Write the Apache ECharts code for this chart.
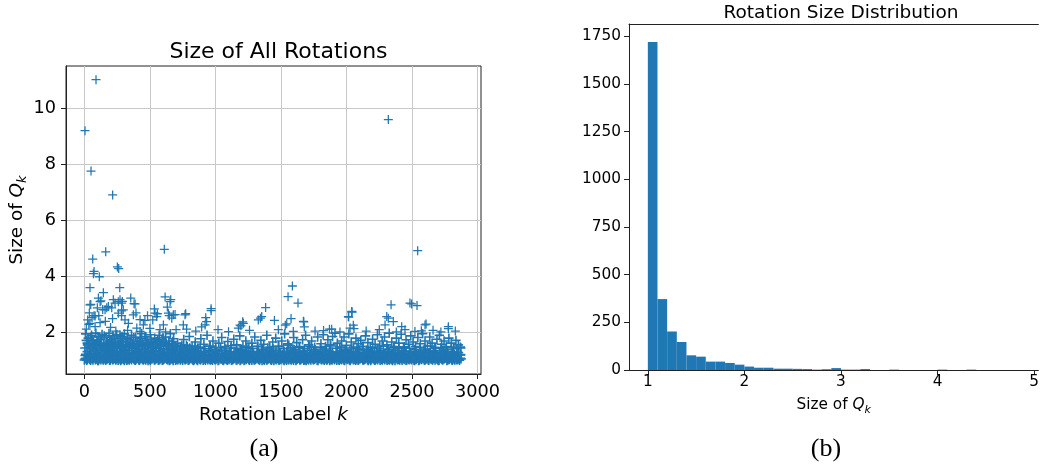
<!DOCTYPE html>
<html><head><meta charset="utf-8">
<script src="https://cdn.jsdelivr.net/npm/echarts@6/dist/echarts.min.js"></script>
<style>html,body{margin:0;padding:0;background:#fff}#c{width:1042px;height:468px}</style>
</head><body><div id="c"></div>
<script>
// ---------- text ----------
const scatterTitle = 'Size of All Rotations';
const histTitle = 'Rotation Size Distribution';
const captionA = '(a)';
const captionB = '(b)';

// ---------- tick labels ----------
const xTicksA = [0, 500, 1000, 1500, 2000, 2500, 3000];
const yTicksA = [2, 4, 6, 8, 10];
const xTicksB = [1, 2, 3, 4, 5];
const yTicksB = [0, 250, 500, 750, 1000, 1250, 1500, 1750];

// ---------- scatter: [rotation label k, size of Q_k] ----------
const outlierPts = [[5,9.2],[89,11.02],[51,7.76],[216,6.91],[2319,9.6],[610,4.97],[163,4.88],[2543,4.92],[64,4.62],[74,4.18],[69,4.1],[114,3.99],[252,4.34],[262,4.28],[43,3.6],[270,3.6],[145,3.42],[1587,3.66],[1554,3.28],[1630,3.05],[2484,3.05],[2497,3.02],[616,3.27],[659,3.17],[654,3.1],[354,3.23],[379,3.03],[387,3.02],[290,3.11],[272,3.17],[285,3.05],[259,3.1],[221,3.17],[234,3.05],[107,3.23],[127,3.13],[120,3.1],[49,3.0]];
const midPts = [[43,2.99],[183,2.93],[297,2.81],[259,2.69],[158,2.81],[99,2.88],[140,2.82],[171,2.88],[209,2.88],[38,2.7],[59,2.53],[34,2.29],[74,2.6],[82,2.59],[43,2.33],[82,2.21],[284,2.77],[284,2.6],[310,2.45],[336,2.33],[374,2.63],[394,2.7],[400,2.16],[425,2.04],[425,2.46],[450,2.27],[462,2.43],[482,2.6],[522,2.45],[534,2.84],[539,2.69],[552,2.57],[557,2.67],[577,2.1],[603,2.27],[633,2.91],[641,2.69],[648,2.6],[667,2.51],[679,2.63],[692,2.64],[755,2.27],[768,2.63],[773,2.67],[895,2.2],[921,2.27],[926,2.53],[933,2.39],[967,2.85],[967,2.78],[1175,2.16],[1188,2.26],[1195,2.24],[1208,2.38],[1213,2.33],[1327,2.45],[1343,2.51],[1353,2.57],[1383,2.89],[1450,2.43],[1533,2.26],[1544,2.31],[1577,2.5],[1594,2.04],[1671,2.4],[1674,2.38],[1678,2.2],[1825,2.07],[1870,2.12],[1887,2.12],[2014,2.57],[2017,2.55],[2027,2.16],[2040,2.75],[2042,2.73],[2052,2.26],[2057,2.14],[2294,2.27],[2307,2.57],[2319,2.51],[2340,2.99],[2357,2.39],[2421,2.21],[2446,2.1],[2522,2.04],[2538,2.96],[2571,2.06],[2599,2.27],[2607,2.3],[2777,2.21],[2777,2.14],[15,2.12],[120,2.35],[200,2.18],[240,2.05],[330,2.08],[500,2.15],[620,2.02],[700,2.1],[160,2.4],[215,2.5],[25,2.45],[110,2.6],[2150,2.05],[2250,2.1],[2380,2.02],[2660,2.08],[2720,2.02],[2830,2.05],[1950,2.02],[1760,2.05],[1100,2.03],[1260,2.08],[1480,2.1],[850,2.05],[1020,2.1],[780,2.12]];
const lowPts = [[10,1.95],[22,1.62],[30,1.8],[41,1.48],[55,1.9],[62,1.72],[78,1.55],[88,1.98],[96,1.68],[105,1.85],[118,1.52],[126,1.76],[135,1.93],[148,1.6],[156,1.45],[168,1.82],[176,1.66],[188,1.97],[197,1.54],[205,1.74],[218,1.88],[226,1.5],[238,1.64],[247,1.92],[256,1.78],[268,1.46],[277,1.7],[288,1.86],[296,1.58],[305,1.95],[318,1.66],[327,1.8],[339,1.52],[348,1.74],[360,1.9],[371,1.6],[383,1.47],[392,1.83],[405,1.68],[414,1.56],[428,1.78],[437,1.96],[446,1.62],[458,1.5],[469,1.84],[478,1.7],[491,1.58],[503,1.92],[512,1.65],[526,1.48],[537,1.8],[548,1.58],[560,1.72],[571,1.9],[584,1.55],[595,1.76],[608,1.64],[619,1.84],[631,1.5],[644,1.7],[656,1.96],[668,1.6],[681,1.78],[694,1.52],
[15,1.72],[35,1.58],[50,1.84],[70,1.66],[93,1.5],[112,1.74],[130,1.62],[152,1.88],[172,1.56],[193,1.7],[212,1.6],[232,1.8],[252,1.55],[272,1.9],[292,1.68],[312,1.52],[333,1.76],[355,1.64],[377,1.82],[398,1.54],[420,1.7],[440,1.6],[462,1.86],[485,1.63],[508,1.76],[530,1.56],[553,1.68],[578,1.62],[600,1.82],[625,1.6],[650,1.55],[675,1.68],
[712,1.62],[735,1.48],[758,1.75],[779,1.55],[801,1.86],[822,1.5],[846,1.66],[868,1.44],[889,1.78],[912,1.58],[936,1.9],[958,1.52],[981,1.7],[1003,1.46],[1026,1.62],[1048,1.82],[1071,1.5],[1095,1.68],[1118,1.45],[1140,1.76],[1163,1.56],[1186,1.88],[1210,1.52],[1232,1.7],[1255,1.46],[1278,1.62],[1300,1.84],[1324,1.5],[1347,1.72],[1369,1.58],[1392,1.9],[1415,1.48],[1437,1.66],[1460,1.8],[1483,1.52],[1506,1.7],[1528,1.95],[1551,1.6],[1574,1.46],[1597,1.82],[1620,1.64],[1642,1.5],[1665,1.74],[1688,1.9],[1711,1.56],[1734,1.7],[1757,1.48],[1780,1.84],
[1805,1.6],[1822,1.92],[1840,1.5],[1858,1.74],[1876,1.56],[1894,1.86],[1912,1.98],[1930,1.62],[1948,1.46],[1963,1.7],[1981,1.84],[1999,1.54],[2018,1.95],[2036,1.66],[2054,1.48],[2072,1.8],[2090,1.6],[2109,1.72],[2127,1.5],[2145,1.88],[2163,1.64],[2181,1.46],[2199,1.76],[2218,1.58],[2236,1.92],[2254,1.52],[2272,1.7],[2290,1.84],[2308,1.56],[2326,1.98],[2345,1.66],[2363,1.5],[2381,1.8],[2399,1.62],[2417,1.94],[2435,1.48],[2454,1.74],[2472,1.58],[2490,1.88],[2508,1.66],[2526,1.5],[2544,1.82],[2563,1.6],[2581,1.96],[2599,1.7],[2617,1.52],[2635,1.84],[2653,1.62],[2672,1.46],[2690,1.76],[2708,1.9],[2726,1.58],[2744,1.7],[2762,1.5],[2781,1.8],[2799,1.62],[2817,1.46],[2835,1.72],[2853,1.56],[2868,1.48]];
const bandRowA = [[0,1.02],[12,1.08],[24,1.04],[36,1.10],[48,1.01],[60,1.06],[72,1.09],[84,1.03],[96,1.07],[108,1.00],
[120,1.05],[132,1.09],[144,1.02],[156,1.06],[168,1.04],[180,1.08],[192,1.01],[204,1.10],[216,1.03],[228,1.07],
[240,1.02],[252,1.08],[264,1.05],[276,1.00],[288,1.09],[300,1.04],[312,1.07],[324,1.01],[336,1.06],[348,1.10],
[360,1.03],[372,1.08],[384,1.02],[396,1.05],[408,1.09],[420,1.01],[432,1.07],[444,1.04],[456,1.10],[468,1.02],
[480,1.06],[492,1.08],[504,1.00],[516,1.05],[528,1.09],[540,1.03],[552,1.07],[564,1.01],[576,1.04],[588,1.10],
[600,1.02],[612,1.06],[624,1.08],[636,1.03],[648,1.00],[660,1.07],[672,1.05],[684,1.09],[696,1.01],[708,1.04],
[720,1.08],[732,1.02],[744,1.06],[756,1.10],[768,1.03],[780,1.07],[792,1.01],[804,1.05],[816,1.09],[828,1.02],
[840,1.04],[852,1.08],[864,1.00],[876,1.06],[888,1.03],[900,1.10],[912,1.05],[924,1.01],[936,1.07],[948,1.09],
[960,1.02],[972,1.04],[984,1.08],[996,1.03],[1008,1.06],[1020,1.00],[1032,1.10],[1044,1.05],[1056,1.02],[1068,1.07],
[1080,1.09],[1092,1.01],[1104,1.04],[1116,1.08],[1128,1.03],[1140,1.06],[1152,1.10],[1164,1.02],[1176,1.05],[1188,1.00],
[1200,1.07],[1212,1.09],[1224,1.03],[1236,1.04],[1248,1.08],[1260,1.01],[1272,1.06],[1284,1.10],[1296,1.02],[1308,1.05],
[1320,1.09],[1332,1.03],[1344,1.07],[1356,1.00],[1368,1.04],[1380,1.08],[1392,1.02],[1404,1.06],[1416,1.10],[1428,1.01],
[1440,1.05],[1452,1.09],[1464,1.03],[1476,1.07],[1488,1.02],[1500,1.04],[1512,1.08],[1524,1.00],[1536,1.06],[1548,1.10],
[1560,1.03],[1572,1.05],[1584,1.09],[1596,1.01],[1608,1.07],[1620,1.04],[1632,1.08],[1644,1.02],[1656,1.06],[1668,1.10],
[1680,1.03],[1692,1.00],[1704,1.05],[1716,1.09],[1728,1.02],[1740,1.07],[1752,1.04],[1764,1.08],[1776,1.01],[1788,1.06],
[1800,1.10],[1812,1.03],[1824,1.05],[1836,1.09],[1848,1.02],[1860,1.07],[1872,1.00],[1884,1.04],[1896,1.08],[1908,1.03],
[1920,1.06],[1932,1.10],[1944,1.01],[1956,1.05],[1968,1.09],[1980,1.02],[1992,1.07],[2004,1.04],[2016,1.08],[2028,1.00],
[2040,1.06],[2052,1.03],[2064,1.10],[2076,1.05],[2088,1.01],[2100,1.07],[2112,1.09],[2124,1.02],[2136,1.04],[2148,1.08],
[2160,1.03],[2172,1.06],[2184,1.00],[2196,1.10],[2208,1.05],[2220,1.02],[2232,1.07],[2244,1.09],[2256,1.01],[2268,1.04],
[2280,1.08],[2292,1.03],[2304,1.06],[2316,1.10],[2328,1.02],[2340,1.05],[2352,1.00],[2364,1.09],[2376,1.07],[2388,1.03],
[2400,1.04],[2412,1.08],[2424,1.01],[2436,1.06],[2448,1.10],[2460,1.02],[2472,1.05],[2484,1.09],[2496,1.03],[2508,1.07],
[2520,1.00],[2532,1.04],[2544,1.08],[2556,1.02],[2568,1.06],[2580,1.10],[2592,1.03],[2604,1.05],[2616,1.09],[2628,1.01],
[2640,1.07],[2652,1.04],[2664,1.08],[2676,1.02],[2688,1.06],[2700,1.00],[2712,1.10],[2724,1.05],[2736,1.03],[2748,1.07],
[2760,1.09],[2772,1.02],[2784,1.04],[2796,1.08],[2808,1.01],[2820,1.06],[2832,1.10],[2844,1.03],[2856,1.05],[2868,1.08]];
const bandRowD = [[6,1.06],[18,1.01],[30,1.09],[42,1.04],[54,1.07],[66,1.02],[78,1.10],[90,1.05],[102,1.00],[114,1.08],
[126,1.03],[138,1.06],[150,1.09],[162,1.01],[174,1.05],[186,1.08],[198,1.02],[210,1.07],[222,1.04],[234,1.10],
[246,1.05],[258,1.01],[270,1.08],[282,1.03],[294,1.06],[306,1.00],[318,1.09],[330,1.04],[342,1.02],[354,1.07],
[366,1.10],[378,1.05],[390,1.01],[402,1.08],[414,1.03],[426,1.06],[438,1.09],[450,1.02],[462,1.05],[474,1.08],
[486,1.00],[498,1.04],[510,1.07],[522,1.10],[534,1.02],[546,1.06],[558,1.09],[570,1.03],[582,1.07],[594,1.01],
[606,1.05],[618,1.10],[630,1.04],[642,1.08],[654,1.02],[666,1.06],[678,1.00],[690,1.09],[702,1.05],[714,1.03],
[726,1.07],[738,1.10],[750,1.01],[762,1.06],[774,1.04],[786,1.09],[798,1.02],[810,1.08],[822,1.05],[834,1.00],
[846,1.07],[858,1.03],[870,1.10],[882,1.04],[894,1.08],[906,1.01],[918,1.06],[930,1.09],[942,1.03],[954,1.05],
[966,1.10],[978,1.01],[990,1.07],[1002,1.04],[1014,1.09],[1026,1.02],[1038,1.06],[1050,1.08],[1062,1.00],[1074,1.05],
[1086,1.03],[1098,1.07],[1110,1.10],[1122,1.01],[1134,1.04],[1146,1.08],[1158,1.02],[1170,1.06],[1182,1.09],[1194,1.03],
[1206,1.05],[1218,1.00],[1230,1.07],[1242,1.10],[1254,1.04],[1266,1.08],[1278,1.01],[1290,1.06],[1302,1.03],[1314,1.09],
[1326,1.05],[1338,1.02],[1350,1.08],[1362,1.10],[1374,1.01],[1386,1.06],[1398,1.04],[1410,1.07],[1422,1.03],[1434,1.09],
[1446,1.00],[1458,1.05],[1470,1.08],[1482,1.02],[1494,1.06],[1506,1.10],[1518,1.03],[1530,1.07],[1542,1.01],[1554,1.04],
[1566,1.09],[1578,1.02],[1590,1.06],[1602,1.08],[1614,1.00],[1626,1.05],[1638,1.10],[1650,1.03],[1662,1.07],[1674,1.01],
[1686,1.04],[1698,1.08],[1710,1.02],[1722,1.06],[1734,1.09],[1746,1.03],[1758,1.05],[1770,1.10],[1782,1.00],[1794,1.07],
[1806,1.04],[1818,1.08],[1830,1.01],[1842,1.06],[1854,1.03],[1866,1.09],[1878,1.05],[1890,1.02],[1902,1.07],[1914,1.10],
[1926,1.01],[1938,1.04],[1950,1.08],[1962,1.03],[1974,1.06],[1986,1.00],[1998,1.09],[2010,1.05],[2022,1.02],[2034,1.07],
[2046,1.10],[2058,1.04],[2070,1.01],[2082,1.08],[2094,1.03],[2106,1.06],[2118,1.09],[2130,1.02],[2142,1.05],[2154,1.10],
[2166,1.00],[2178,1.07],[2190,1.04],[2202,1.08],[2214,1.01],[2226,1.06],[2238,1.03],[2250,1.09],[2262,1.05],[2274,1.02],
[2286,1.07],[2298,1.10],[2310,1.01],[2322,1.04],[2334,1.08],[2346,1.03],[2358,1.06],[2370,1.00],[2382,1.09],[2394,1.05],
[2406,1.02],[2418,1.07],[2430,1.10],[2442,1.04],[2454,1.01],[2466,1.08],[2478,1.03],[2490,1.06],[2502,1.09],[2514,1.02],
[2526,1.05],[2538,1.10],[2550,1.00],[2562,1.07],[2574,1.04],[2586,1.08],[2598,1.01],[2610,1.06],[2622,1.03],[2634,1.09],
[2646,1.05],[2658,1.02],[2670,1.07],[2682,1.10],[2694,1.04],[2706,1.01],[2718,1.08],[2730,1.03],[2742,1.06],[2754,1.09],
[2766,1.00],[2778,1.05],[2790,1.10],[2802,1.03],[2814,1.07],[2826,1.02],[2838,1.04],[2850,1.08],[2862,1.01],[2874,1.06]];
const bandRowB = [[6,1.18],[22,1.32],[38,1.24],[54,1.14],[70,1.38],[86,1.21],[102,1.29],[118,1.16],[134,1.35],[150,1.26],
[166,1.12],[182,1.31],[198,1.22],[214,1.37],[230,1.19],[246,1.27],[262,1.15],[278,1.34],[294,1.23],[310,1.30],
[326,1.17],[342,1.36],[358,1.25],[374,1.13],[390,1.33],[406,1.20],[422,1.28],[438,1.39],[454,1.16],[470,1.24],
[486,1.31],[502,1.14],[518,1.36],[534,1.21],[550,1.27],[566,1.18],[582,1.34],[598,1.23],[614,1.12],[630,1.30],
[646,1.26],[662,1.38],[678,1.15],[694,1.22],[710,1.32],[726,1.19],[742,1.28],[758,1.14],[774,1.35],[790,1.24],
[806,1.17],[822,1.30],[838,1.21],[854,1.12],[870,1.33],[886,1.26],[902,1.16],[918,1.29],[934,1.20],[950,1.37],
[966,1.13],[982,1.25],[998,1.31],[1014,1.18],[1030,1.23],[1046,1.35],[1062,1.15],[1078,1.27],[1094,1.20],[1110,1.32],
[1126,1.12],[1142,1.24],[1158,1.29],[1174,1.17],[1190,1.36],[1206,1.22],[1222,1.14],[1238,1.28],[1254,1.19],[1270,1.33],
[1286,1.25],[1302,1.13],[1318,1.30],[1334,1.21],[1350,1.38],[1366,1.16],[1382,1.26],[1398,1.18],[1414,1.31],[1430,1.23],
[1446,1.12],[1462,1.34],[1478,1.20],[1494,1.27],[1510,1.15],[1526,1.32],[1542,1.24],[1558,1.17],[1574,1.29],[1590,1.36],
[1606,1.14],[1622,1.22],[1638,1.30],[1654,1.19],[1670,1.26],[1686,1.13],[1702,1.35],[1718,1.21],[1734,1.28],[1750,1.16],
[1766,1.33],[1782,1.24],[1798,1.12],[1814,1.30],[1830,1.20],[1846,1.37],[1862,1.17],[1878,1.25],[1894,1.31],[1910,1.14],
[1926,1.27],[1942,1.22],[1958,1.35],[1974,1.18],[1990,1.29],[2006,1.13],[2022,1.24],[2038,1.32],[2054,1.19],[2070,1.26],
[2086,1.15],[2102,1.38],[2118,1.21],[2134,1.28],[2150,1.17],[2166,1.33],[2182,1.23],[2198,1.12],[2214,1.30],[2230,1.25],
[2246,1.16],[2262,1.35],[2278,1.20],[2294,1.27],[2310,1.14],[2326,1.31],[2342,1.22],[2358,1.18],[2374,1.36],[2390,1.24],
[2406,1.13],[2422,1.29],[2438,1.21],[2454,1.34],[2470,1.17],[2486,1.26],[2502,1.12],[2518,1.32],[2534,1.23],[2550,1.19],
[2566,1.30],[2582,1.15],[2598,1.37],[2614,1.22],[2630,1.28],[2646,1.16],[2662,1.33],[2678,1.24],[2694,1.13],[2710,1.29],
[2726,1.20],[2742,1.35],[2758,1.18],[2774,1.26],[2790,1.14],[2806,1.31],[2822,1.22],[2838,1.17],[2854,1.28],[2870,1.20]];
const bandRowE = [[10,1.22],[30,1.14],[50,1.33],[70,1.18],[90,1.27],[110,1.11],[130,1.24],[150,1.35],[170,1.16],[190,1.29],
[210,1.20],[230,1.12],[250,1.31],[270,1.25],[290,1.15],[310,1.36],[330,1.21],[350,1.13],[370,1.28],[390,1.19],
[410,1.34],[430,1.23],[450,1.11],[470,1.30],[490,1.17],[510,1.26],[530,1.14],[550,1.33],[570,1.22],[590,1.16],
[610,1.29],[630,1.12],[650,1.24],[670,1.35],[690,1.18],[710,1.27],[730,1.13],[750,1.21],[770,1.31],[790,1.15],
[810,1.25],[830,1.19],[850,1.34],[870,1.11],[890,1.23],[910,1.28],[930,1.14],[950,1.20],[970,1.32],[990,1.16],
[1010,1.26],[1030,1.12],[1050,1.22],[1070,1.35],[1090,1.17],[1110,1.24],[1130,1.13],[1150,1.30],[1170,1.19],[1190,1.27],
[1210,1.15],[1230,1.33],[1250,1.21],[1270,1.11],[1290,1.25],[1310,1.18],[1330,1.31],[1350,1.14],[1370,1.23],[1390,1.29],
[1410,1.16],[1430,1.36],[1450,1.20],[1470,1.12],[1490,1.26],[1510,1.22],[1530,1.17],[1550,1.32],[1570,1.13],[1590,1.24],
[1610,1.28],[1630,1.15],[1650,1.21],[1670,1.34],[1690,1.18],[1710,1.11],[1730,1.25],[1750,1.30],[1770,1.14],[1790,1.23],
[1810,1.19],[1830,1.27],[1850,1.12],[1870,1.33],[1890,1.22],[1910,1.16],[1930,1.29],[1950,1.13],[1970,1.24],[1990,1.35],
[2010,1.18],[2030,1.21],[2050,1.15],[2070,1.31],[2090,1.26],[2110,1.11],[2130,1.23],[2150,1.28],[2170,1.17],[2190,1.34],
[2210,1.20],[2230,1.13],[2250,1.27],[2270,1.22],[2290,1.16],[2310,1.32],[2330,1.19],[2350,1.25],[2370,1.12],[2390,1.29],
[2410,1.21],[2430,1.15],[2450,1.33],[2470,1.18],[2490,1.24],[2510,1.11],[2530,1.28],[2550,1.22],[2570,1.14],[2590,1.30],
[2610,1.17],[2630,1.26],[2650,1.20],[2670,1.35],[2690,1.13],[2710,1.23],[2730,1.27],[2750,1.16],[2770,1.31],[2790,1.19],
[2810,1.24],[2830,1.12],[2850,1.29],[2870,1.21]];
const bandRowC = [[4,1.45],[24,1.56],[44,1.41],[64,1.52],[84,1.60],[104,1.43],[124,1.55],[144,1.48],[164,1.39],[184,1.58],
[204,1.46],[224,1.53],[244,1.42],[264,1.57],[284,1.49],[304,1.40],[324,1.54],[344,1.47],[364,1.59],[384,1.43],
[404,1.51],[424,1.38],[444,1.56],[464,1.45],[484,1.52],[504,1.41],[524,1.58],[544,1.48],[564,1.44],[584,1.55],
[604,1.40],[624,1.50],[644,1.57],[664,1.43],[684,1.53],[704,1.46],[724,1.39],[744,1.55],[764,1.42],[784,1.49],
[804,1.45],[824,1.40],[844,1.52],[864,1.44],[884,1.48],
[920,1.42],[960,1.50],[1000,1.39],[1040,1.46],[1080,1.41],[1120,1.53],[1160,1.44],[1200,1.40],[1240,1.48],[1280,1.43],
[1320,1.51],[1360,1.39],[1400,1.45],[1440,1.41],[1480,1.49],[1520,1.43],[1560,1.55],[1600,1.40],[1640,1.47],[1680,1.42],
[1720,1.50],[1760,1.39],[1800,1.46],[1840,1.41],[1880,1.52],[1920,1.44],[1960,1.48],[2000,1.40],[2040,1.45],[2080,1.42],
[2120,1.50],[2160,1.39],[2200,1.47],[2240,1.43],[2280,1.51],[2320,1.40],[2360,1.46],[2400,1.42],[2440,1.49],[2480,1.44],
[2520,1.39],[2560,1.47],[2600,1.41],[2640,1.52],[2680,1.43],[2720,1.46],[2760,1.40],[2800,1.48],[2840,1.42],[2872,1.45]];

// ---------- histogram ----------
const histLeftEdges = [1.0,1.1,1.2,1.3,1.4,1.5,1.6,1.7,1.8,1.9,2.0,2.1,2.2,2.3,2.4,2.5,2.6,2.7,2.8,2.9,3.0,3.1,3.2,3.3,3.4,3.5,3.6,3.7,3.8,3.9,4.0,4.1,4.2,4.3,4.4,4.5,4.6,4.7,4.8];
const histBinWidth = 0.1;
const histCounts = [1720,372,202,147,77,70,44,44,37,28,18,12,12,7,7,6,5,2,4,10,2,2,5,0,0,2,0,0,0,0,2,0,0,2,0,0,0,0,0];

// ---------- build ----------
const FONT = 'DejaVu Sans';
const BLUE = '#1f77b4';
const INK = '#000';
const SPINE = '#222';
const PLUS_BOLD = 'path://M4.15,0H5.85V10H4.15Z M0,4.15H10V5.85H0Z';
const PLUS_THIN = 'path://M4.3,0H5.7V10H4.3Z M0,4.3H10V5.7H0Z';
const plain = v => String(v);

const denseData = [].concat(bandRowA, bandRowD, bandRowB, bandRowE, bandRowC, lowPts);
const sparseData = [].concat(midPts, outlierPts);
const histData = histLeftEdges.map((e, i) => [e, +(e + histBinWidth).toFixed(2), histCounts[i]]);

function subRich(size, subSize) {
  return {
    n: {fontFamily: FONT, fontSize: size, color: INK, lineHeight: size + 6, verticalAlign: 'middle'},
    q: {fontFamily: FONT, fontSize: size, color: INK, fontStyle: 'italic', lineHeight: size + 6, verticalAlign: 'middle'},
    s: {fontFamily: FONT, fontSize: subSize, color: INK, fontStyle: 'italic', lineHeight: size + 6, verticalAlign: 'bottom'}
  };
}

const chart = echarts.init(document.getElementById('c'), null, {renderer: 'canvas'});
chart.setOption({
  animation: false,
  backgroundColor: '#fff',
  textStyle: {fontFamily: FONT},
  title: [
    {text: scatterTitle, left: 273.5, top: 35, textAlign: 'center',
     textStyle: {fontFamily: FONT, fontSize: 22, fontWeight: 'normal', color: INK, lineHeight: 24}},
    {text: histTitle, left: 836, top: -2, textAlign: 'center',
     textStyle: {fontFamily: FONT, fontSize: 18.5, fontWeight: 'normal', color: INK, lineHeight: 20}}
  ],
  grid: [
    {left: 66, top: 66, width: 415, height: 308, show: true, borderColor: SPINE, borderWidth: 1, backgroundColor: 'transparent'},
    {left: 629, top: 24, right: 1, height: 346, show: false}
  ],
  xAxis: [
    {gridIndex: 0, type: 'value', min: -140, max: 3026,
     name: '{n|Rotation Label }{q|k}', nameLocation: 'middle', nameGap: 24,
     nameTextStyle: {rich: subRich(18.4, 13)},
     axisLine: {show: true, onZero: false, lineStyle: {color: SPINE, width: 1}},
     axisTick: {show: true, length: 5, customValues: xTicksA, lineStyle: {color: SPINE, width: 1}},
     axisLabel: {customValues: xTicksA, formatter: plain, margin: 9, fontFamily: FONT, fontSize: 17.7, color: INK},
     splitLine: {show: true, lineStyle: {color: '#c8c8c8', width: 1}}},
    {gridIndex: 1, type: 'value', min: 0.805, max: 5.044,
     name: '{n|Size of }{q|Q}{s|k}', nameLocation: 'middle', nameGap: 24,
     nameTextStyle: {rich: subRich(15.3, 11)},
     axisLine: {show: true, onZero: false, lineStyle: {color: SPINE, width: 1}},
     axisTick: {show: true, length: 5, customValues: xTicksB, lineStyle: {color: SPINE, width: 1}},
     axisLabel: {customValues: xTicksB, formatter: plain, margin: 5, fontFamily: FONT, fontSize: 15.3, color: INK},
     splitLine: {show: false}},
    {gridIndex: 1, type: 'value', position: 'top', min: 0.805, max: 5.044,
     axisLine: {show: true, onZero: false, lineStyle: {color: SPINE, width: 1}},
     axisTick: {show: false}, axisLabel: {show: false}, splitLine: {show: false}}
  ],
  yAxis: [
    {gridIndex: 0, type: 'value', min: 0.52, max: 11.51,
     name: '{n|Size of }{q|Q}{s|k}', nameLocation: 'middle', nameGap: 36, nameRotate: 90,
     nameTextStyle: {rich: subRich(18.4, 13)},
     axisLine: {show: true, onZero: false, lineStyle: {color: SPINE, width: 1}},
     axisTick: {show: true, length: 5, customValues: yTicksA, lineStyle: {color: SPINE, width: 1}},
     axisLabel: {customValues: yTicksA, formatter: plain, margin: 10, fontFamily: FONT, fontSize: 17.7, color: INK},
     splitLine: {show: true, lineStyle: {color: '#c8c8c8', width: 1}}},
    {gridIndex: 1, type: 'value', min: 0, max: 1815,
     axisLine: {show: true, onZero: false, lineStyle: {color: SPINE, width: 1}},
     axisTick: {show: true, length: 5, customValues: yTicksB, lineStyle: {color: SPINE, width: 1}},
     axisLabel: {customValues: yTicksB, formatter: plain, margin: 8, fontFamily: FONT, fontSize: 15.3, color: INK},
     splitLine: {show: false}}
  ],
  series: [
    {type: 'scatter', xAxisIndex: 0, yAxisIndex: 0, data: denseData,
     symbol: PLUS_BOLD, symbolSize: 9.4, silent: true, large: false,
     itemStyle: {color: BLUE, opacity: 1}},
    {type: 'scatter', xAxisIndex: 0, yAxisIndex: 0, data: sparseData,
     symbol: PLUS_THIN, symbolSize: 9, silent: true, large: false,
     itemStyle: {color: BLUE, opacity: 1}},
    {type: 'custom', xAxisIndex: 1, yAxisIndex: 1, data: histData, silent: true,
     encode: {x: [0, 1], y: 2},
     renderItem: function (params, api) {
       const x0 = api.value(0), x1 = api.value(1), c = api.value(2);
       if (!c) return null;
       const p0 = api.coord([x0, c]);
       const p1 = api.coord([x1, 0]);
       return {type: 'rect', shape: {x: p0[0], y: p0[1], width: p1[0] - p0[0], height: p1[1] - p0[1]},
               style: {fill: BLUE}};
     }}
  ],
  graphic: [
    {type: 'text', x: 264, y: 449, style: {text: captionA, fill: INK, font: '26px "Liberation Serif"', align: 'center', verticalAlign: 'middle'}},
    {type: 'text', x: 826, y: 449, style: {text: captionB, fill: INK, font: '26px "Liberation Serif"', align: 'center', verticalAlign: 'middle'}}
  ]
});
</script>
</body></html>
